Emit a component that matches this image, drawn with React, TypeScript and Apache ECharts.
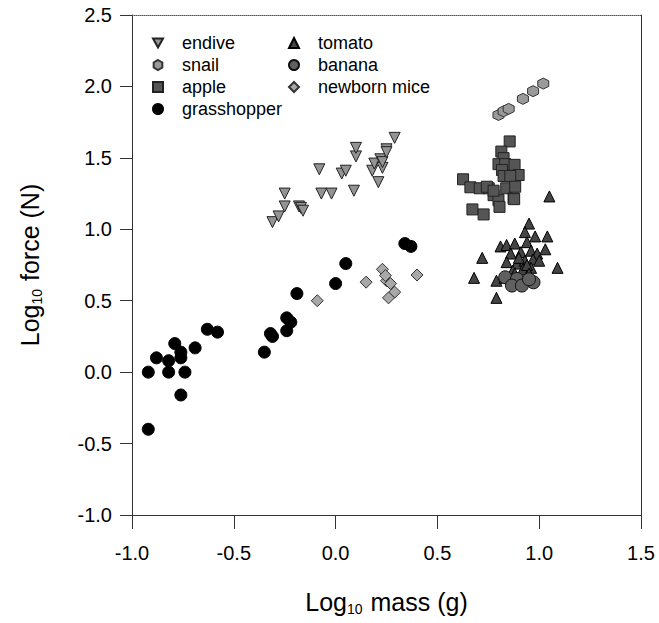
import React, { useEffect, useRef } from "react";
import * as echarts from "echarts";

const xTicks = [-1.0, -0.5, 0.0, 0.5, 1.0, 1.5];
const yTicks = [-1.0, -0.5, 0.0, 0.5, 1.0, 1.5, 2.0, 2.5];

const endive = [
  [-0.31, 1.05], [-0.28, 1.09], [-0.25, 1.16], [-0.25, 1.25], [-0.18, 1.16], [-0.17, 1.15],
  [-0.16, 1.13], [-0.08, 1.42], [-0.07, 1.25], [-0.02, 1.25], [0.03, 1.39], [0.05, 1.41],
  [0.09, 1.27], [0.1, 1.51], [0.1, 1.57], [0.18, 1.41], [0.19, 1.46], [0.21, 1.33],
  [0.22, 1.49], [0.23, 1.43], [0.23, 1.47], [0.25, 1.56], [0.25, 1.54], [0.29, 1.64],
];
const snail = [
  [0.8, 1.8], [0.825, 1.826], [0.85, 1.843], [0.92, 1.913], [0.97, 1.967], [1.02, 2.02],
];
const apple = [
  [0.855, 1.615], [0.814, 1.544], [0.825, 1.498], [0.8, 1.456], [0.833, 1.456], [0.879, 1.451],
  [0.817, 1.415], [0.825, 1.373], [0.899, 1.38], [0.858, 1.373], [0.626, 1.35], [0.662, 1.294],
  [0.708, 1.287], [0.752, 1.287], [0.838, 1.287], [0.882, 1.298], [0.776, 1.239], [0.8, 1.204],
  [0.874, 1.216], [0.672, 1.139], [0.727, 1.104], [0.805, 1.157], [0.877, 1.211], [0.743, 1.298],
  [0.776, 1.27],
];
const grasshopper = [
  [-0.92, 0.0], [-0.92, -0.4], [-0.88, 0.1], [-0.82, 0.0], [-0.82, 0.08], [-0.79, 0.2],
  [-0.76, 0.14], [-0.76, 0.1], [-0.74, 0.0], [-0.76, -0.16], [-0.69, 0.17], [-0.63, 0.3],
  [-0.58, 0.28], [-0.35, 0.14], [-0.32, 0.27], [-0.31, 0.25], [-0.24, 0.38], [-0.22, 0.35],
  [-0.24, 0.29], [-0.19, 0.55], [0.0, 0.62], [0.05, 0.76], [0.34, 0.9], [0.37, 0.88],
];
const tomato = [
  [1.05, 1.23], [0.95, 1.04], [0.93, 0.98], [0.98, 0.95], [1.04, 0.95], [0.81, 0.88],
  [0.84, 0.89], [0.88, 0.9], [0.94, 0.91], [1.03, 0.86], [0.72, 0.8], [1.09, 0.73],
  [0.68, 0.66], [0.79, 0.64], [0.79, 0.52], [0.86, 0.83], [0.91, 0.84], [0.96, 0.85],
  [0.99, 0.83], [0.84, 0.77], [0.89, 0.76], [0.93, 0.78], [0.97, 0.79], [1.0, 0.78],
  [0.87, 0.71], [0.92, 0.72], [0.96, 0.73], [0.83, 0.66], [0.91, 0.64], [0.96, 0.66],
  [0.9, 0.8], [0.94, 0.75], [0.88, 0.69], [0.95, 0.69],
];
const banana = [
  [0.833, 0.664], [0.891, 0.652], [0.972, 0.629], [0.866, 0.606], [0.915, 0.606], [0.95, 0.65],
];
const newbornMice = [
  [-0.09, 0.5], [0.15, 0.63], [0.23, 0.72], [0.25, 0.64], [0.27, 0.62], [0.29, 0.56],
  [0.26, 0.52], [0.4, 0.68], [0.245, 0.676],
];

const FONT = "'Liberation Sans', Arial, Helvetica, sans-serif";
const DOWN_TRI = "path://M0,0 L10,0 L5,9 Z";
const HEXAGON = "path://M5,0 L9.33,2.5 L9.33,7.5 L5,10 L0.67,7.5 L0.67,2.5 Z";

const nameRich = {
  a: { fontFamily: FONT, fontSize: 25, color: "#000", lineHeight: 30 },
  b: { fontFamily: FONT, fontSize: 14, color: "#000", lineHeight: 14, padding: [14, 1, 0, 0] },
};

export default function App() {
  const ref = useRef<HTMLDivElement>(null);
  useEffect(() => {
    document.body.style.margin = "0";
    const chart = echarts.init(ref.current!, null, { renderer: "svg" });
    const mk = (name: string, data: number[][], symbol: string, size: number, fill: string, stroke: string, z = 2) => ({
      name,
      type: "scatter",
      data,
      symbol,
      symbolSize: size,
      z,
      itemStyle: { color: fill, borderColor: stroke, borderWidth: 1, opacity: 1 },
    });
    const legendText = { fontFamily: FONT, fontSize: 18, color: "#000", padding: [0, 0, 0, 14], lineHeight: 18 };
    chart.setOption({
      animation: false,
      grid: { left: 132, top: 15, right: 18, bottom: 108 },
      legend: [
        {
          orient: "vertical",
          left: 147,
          top: 29,
          itemWidth: 10,
          itemHeight: 10,
          itemGap: 4,
          textStyle: legendText,
          data: ["endive", "snail", "apple", "grasshopper"],
        },
        {
          orient: "vertical",
          left: 283,
          top: 29,
          itemWidth: 10,
          itemHeight: 10,
          itemGap: 4,
          textStyle: legendText,
          data: ["tomato", "banana", "newborn mice"],
        },
      ],
      xAxis: [
        {
          type: "value",
          min: -1,
          max: 1.5,
          interval: 0.5,
          position: "bottom",
          name: "{a|Log}{b|10}{a| mass (g)}",
          nameLocation: "middle",
          nameGap: 72,
          nameTextStyle: { rich: nameRich },
          axisLine: { show: true, onZero: false, lineStyle: { color: "#333", width: 1 } },
          axisTick: { show: true, inside: false, length: 14, lineStyle: { color: "#333" } },
          axisLabel: {
            margin: 28,
            fontFamily: FONT,
            fontSize: 20,
            color: "#000",
            formatter: (v: number) => v.toFixed(1),
          },
          splitLine: { show: false },
        },
        {
          type: "value",
          min: -1,
          max: 1.5,
          interval: 0.5,
          position: "top",
          axisLine: { show: true, onZero: false, lineStyle: { color: "#555", width: 1, type: "dotted" } },
          axisTick: { show: false },
          axisLabel: { show: false },
          splitLine: { show: false },
        },
      ],
      yAxis: [
        {
          type: "value",
          min: -1,
          max: 2.5,
          interval: 0.5,
          position: "left",
          name: "{a|Log}{b|10}{a| force (N)}",
          nameLocation: "middle",
          nameGap: 87,
          nameRotate: 90,
          nameTextStyle: { rich: nameRich },
          axisLine: { show: true, onZero: false, lineStyle: { color: "#333", width: 1 } },
          axisTick: { show: true, inside: false, length: 12, lineStyle: { color: "#333" } },
          axisLabel: {
            margin: 20,
            fontFamily: FONT,
            fontSize: 20,
            color: "#000",
            formatter: (v: number) => v.toFixed(1),
          },
          splitLine: { show: false },
        },
        {
          type: "value",
          min: -1,
          max: 2.5,
          interval: 0.5,
          position: "right",
          axisLine: { show: true, onZero: false, lineStyle: { color: "#333", width: 1 } },
          axisTick: { show: false },
          axisLabel: { show: false },
          splitLine: { show: false },
        },
      ],
      series: [
        mk("endive", endive, DOWN_TRI, 11, "#939393", "#222"),
        mk("snail", snail, HEXAGON, 11, "#9a9a9a", "#333"),
        mk("apple", apple, "rect", 11, "#555555", "#222"),
        mk("grasshopper", grasshopper, "circle", 12, "#000", "#000"),
        mk("tomato", tomato, "triangle", 11, "#444444", "#000", 3),
        mk("banana", banana, "circle", 13, "#606060", "#111", 4),
        mk("newborn mice", newbornMice, "diamond", 12, "#a8a8a8", "#333"),
      ],
    });
    return () => chart.dispose();
  }, []);
  return <div ref={ref} style={{ width: 659, height: 623 }} />;
}
